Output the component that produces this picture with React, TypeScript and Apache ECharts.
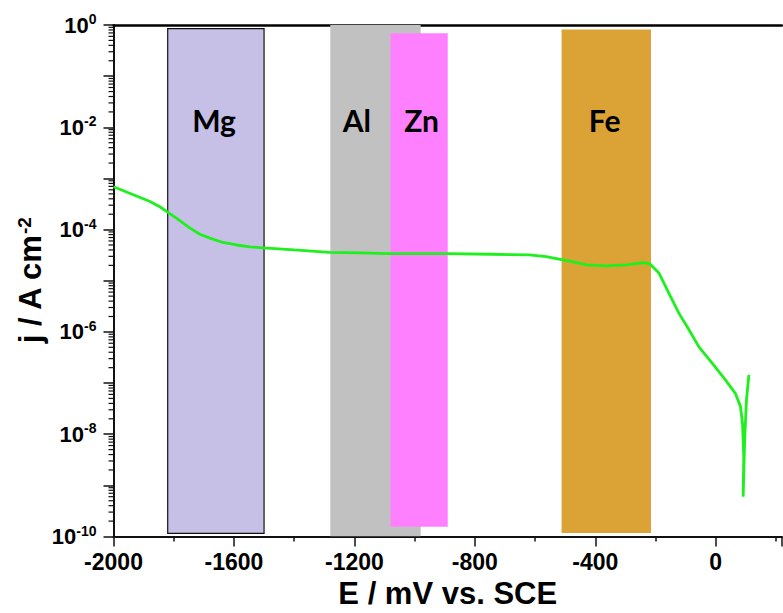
import React, { useEffect, useRef } from 'react';
import * as echarts from 'echarts';

// Polarization curve (E in mV vs. SCE, j in A cm^-2)
const potentialMV = [
  -2000, -1934, -1879, -1846, -1818, -1790, -1746, -1713, -1680, -1636, -1591, -1547, -1503,
  -1400, -1283, -1180, -1084, -896, -750, -619, -563, -512, -473, -429, -362, -296, -241, -219,
  -188, -155, -122, -89, -56, -12, 32, 65, 82, 89, 93, 91, 96, 102, 110,
];
const currentDensity = [
  6.9e-4, 4.8e-4, 3.55e-4, 2.8e-4, 2.15e-4, 1.65e-4, 1.07e-4, 8.1e-5, 6.8e-5, 5.6e-5, 5.0e-5, 4.6e-5, 4.4e-5,
  4.0e-5, 3.6e-5, 3.5e-5, 3.4e-5, 3.4e-5, 3.3e-5, 3.2e-5, 2.95e-5, 2.6e-5, 2.35e-5, 2.05e-5, 1.95e-5, 2.05e-5, 2.25e-5, 2.15e-5,
  1.4e-5, 5.6e-6, 2.3e-6, 1.1e-6, 5.1e-7, 2.45e-7, 1.15e-7, 6.3e-8, 3.5e-8, 1.6e-8, 3.6e-9, 6.0e-10, 7.8e-9, 4.7e-8, 1.45e-7,
];

// Corrosion potential bands of the metals
const bandNames = ['Mg', 'Al', 'Zn', 'Fe'];
const bandStart = [-1820, -1280, -1080, -512];
const bandEnd = [-1500, -980, -890, -215];
const bandTop = [0.85, 1, 0.69, 0.82];
const bandBottom = [1.15e-10, 1e-10, 1.55e-10, 1.17e-10];
const bandLabelE = [-1666, -1192, -977, -369];
const bandColors = ['#c7c0e6', '#c1c1c1', '#ff80ff', '#dba335'];
const bandOutlined = [true, false, false, false];

// Axis ranges (y in decades of A cm^-2)
const xMin = -2000;
const xMax = 220;
const yMinDecade = -10;
const yMaxDecade = 0;
const labelJ = 1.4e-2;

const FONT = 'Arial';

export default function App() {
  const ref = useRef<HTMLDivElement>(null);

  useEffect(() => {
    if (!ref.current) return;
    const chart = echarts.init(ref.current, undefined, { renderer: 'svg' });
    const lg = (v: number) => Math.log10(v);

    const minorTickValues: number[] = [];
    for (let e = yMinDecade; e < yMaxDecade; e++) {
      for (let k = 2; k <= 9; k++) minorTickValues.push(e + Math.log10(k));
    }

    const bandData = bandNames.map((n, i) => [
      bandStart[i], bandEnd[i], lg(bandTop[i]), lg(bandBottom[i]), bandLabelE[i], i,
    ]);

    const option: any = {
      animation: false,
      backgroundColor: '#ffffff',
      textStyle: { fontFamily: FONT },
      grid: {
        left: 113.5, right: 1, top: 25, bottom: 76.5,
        containLabel: false, outerBoundsMode: 'none',
      },
      xAxis: [
        {
          type: 'value',
          min: xMin,
          max: xMax,
          interval: 400,
          name: 'E / mV vs. SCE',
          nameLocation: 'middle',
          nameGap: 41,
          nameMoveOverlap: false,
          nameTextStyle: { fontSize: 31, fontWeight: 'bold', color: '#000', fontFamily: FONT },
          axisLine: { show: true, onZero: false, lineStyle: { color: '#111', width: 2 } },
          axisTick: { show: true, inside: false, length: 10, lineStyle: { color: '#111', width: 1.5 } },
          minorTick: { show: true, splitNumber: 2, length: 5, lineStyle: { color: '#111', width: 1.5 } },
          axisLabel: {
            show: true,
            fontSize: 23,
            fontWeight: 'bold',
            color: '#000',
            fontFamily: FONT,
            margin: 14,
            hideOverlap: false,
            formatter: (v: number) => (v > 100 ? '' : String(v)),
          },
          splitLine: { show: false },
        },
        {
          type: 'value',
          position: 'top',
          min: xMin,
          max: xMax,
          axisLine: { show: true, onZero: false, lineStyle: { color: '#000', width: 2.5 } },
          axisTick: { show: false },
          axisLabel: { show: false },
          splitLine: { show: false },
        },
      ],
      yAxis: {
        type: 'value',
        min: yMinDecade,
        max: yMaxDecade,
        interval: 1,
        name: 'j / A cm{s|-2}',
        nameLocation: 'middle',
        nameGap: 68,
        nameMoveOverlap: false,
        nameTextStyle: {
          fontSize: 31, fontWeight: 'bold', color: '#000', fontFamily: FONT,
          rich: {
            s: { fontSize: 19, fontWeight: 'bold', color: '#000', fontFamily: FONT, verticalAlign: 'top', lineHeight: 17 },
          },
        },
        axisLine: { show: true, onZero: false, lineStyle: { color: '#111', width: 2 } },
        axisTick: { show: true, inside: false, length: 10, lineStyle: { color: '#111', width: 1.5 } },
        axisLabel: {
          show: true,
          margin: 17,
          fontSize: 22,
          fontWeight: 'bold',
          color: '#000',
          fontFamily: FONT,
          hideOverlap: false,
          formatter: (v: number) => {
            const e = Math.round(v);
            if (e % 2 !== 0) return '';
            return '{b|10}{s|' + e + '}';
          },
          rich: {
            b: { fontSize: 22, fontWeight: 'bold', color: '#000', fontFamily: FONT, lineHeight: 26 },
            s: { fontSize: 14, fontWeight: 'bold', color: '#000', fontFamily: FONT, verticalAlign: 'top', lineHeight: 14 },
          },
        },
        splitLine: { show: false },
      },
      series: [
        {
          type: 'custom',
          name: 'bands',
          z: 1,
          clip: true,
          data: bandData,
          renderItem: (params: any, api: any) => {
            const i = api.value(5);
            const p1 = api.coord([api.value(0), api.value(2)]);
            const p2 = api.coord([api.value(1), api.value(3)]);
            const lbl = api.coord([api.value(4), lg(labelJ)]);
            return {
              type: 'group',
              children: [
                {
                  type: 'rect',
                  shape: { x: p1[0], y: p1[1], width: p2[0] - p1[0], height: p2[1] - p1[1] },
                  style: {
                    fill: bandColors[i],
                    stroke: bandOutlined[i] ? '#111' : 'none',
                    lineWidth: bandOutlined[i] ? 1.2 : 0,
                  },
                },
                {
                  type: 'text',
                  z2: 10,
                  style: {
                    x: lbl[0],
                    y: lbl[1],
                    text: bandNames[i],
                    fill: '#000',
                    font: 'bold 30px Lato, sans-serif',
                    align: 'center',
                    verticalAlign: 'middle',
                  },
                },
              ],
            };
          },
        },
        {
          type: 'custom',
          name: 'minorTicks',
          z: 5,
          clip: false,
          silent: true,
          data: minorTickValues.map((v) => [xMin, v]),
          renderItem: (params: any, api: any) => {
            const p = api.coord([api.value(0), api.value(1)]);
            return {
              type: 'line',
              shape: { x1: p[0] - 5, y1: p[1], x2: p[0], y2: p[1] },
              style: { stroke: '#111', lineWidth: 1.2 },
            };
          },
        },
        {
          type: 'line',
          name: 'curve',
          z: 3,
          data: potentialMV.map((e, i) => [e, lg(currentDensity[i])]),
          showSymbol: false,
          symbol: 'none',
          lineStyle: { color: '#1ef01e', width: 2.8 },
        },
      ],
    };

    chart.setOption(option);
    return () => chart.dispose();
  }, []);

  return (
    <div
      ref={ref}
      style={{ position: 'absolute', left: 0, top: 0, width: 783, height: 613 }}
    />
  );
}
